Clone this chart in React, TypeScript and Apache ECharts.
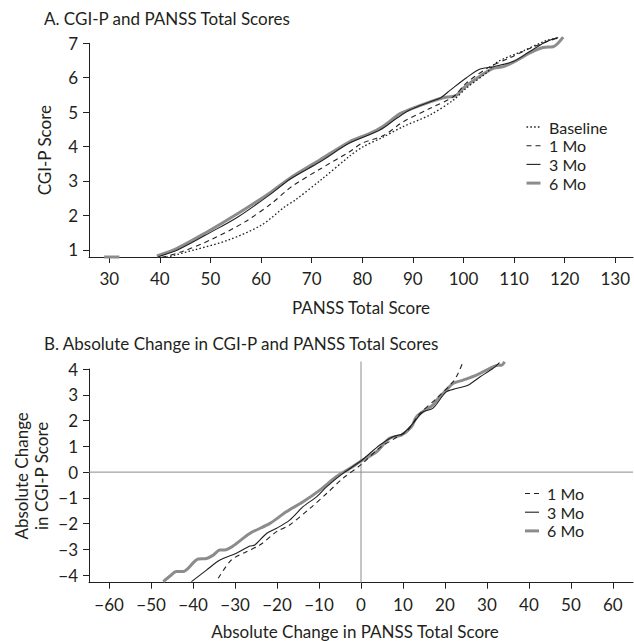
import React, { useEffect, useRef } from "react";
import * as echarts from "echarts";

// ---------- Panel A: CGI-P vs PANSS total score ----------
const aXTicks = [30, 40, 50, 60, 70, 80, 90, 100, 110, 120, 130];
const aYTicks = [1, 2, 3, 4, 5, 6, 7];

const aBaseX = [41.3, 46.9, 53.5, 60.1, 64.7, 66.7, 72, 77.5, 80, 84.2, 88.1, 93.4, 98, 100.6, 104.6, 106.6, 111.8, 116.4, 118.7];
const aBaseY = [0.78, 1.0, 1.28, 1.72, 2.25, 2.44, 3.05, 3.72, 3.98, 4.28, 4.58, 4.92, 5.35, 5.7, 6.15, 6.45, 6.78, 7.08, 7.15];

const a1MoX = [40.4, 44.3, 50.2, 56.8, 62.1, 66, 71.6, 77.5, 80, 84.2, 88.1, 93.4, 98, 100.6, 105, 109.2, 113.1, 118.4];
const a1MoY = [0.78, 0.94, 1.3, 1.81, 2.35, 2.83, 3.34, 3.85, 4.1, 4.32, 4.72, 5.11, 5.45, 5.85, 6.3, 6.58, 6.85, 7.15];

const a3MoX = [39.7, 43.6, 50.2, 55.5, 62.1, 65.7, 71.6, 77.5, 83.5, 86.8, 89.4, 93.4, 95.5, 97.4, 100.6, 103.3, 105.9, 109.8, 113.1, 116.4, 118.7];
const a3MoY = [0.8, 1.0, 1.52, 1.96, 2.64, 3.05, 3.55, 4.1, 4.48, 4.82, 5.06, 5.3, 5.42, 5.64, 6.0, 6.25, 6.32, 6.47, 6.76, 7.05, 7.17];

const a6MoX = [39.4, 43, 48.9, 55.5, 62.1, 65.7, 71.6, 77.5, 81.5, 84.2, 87.4, 89.4, 93.4, 96, 98.5, 100, 103.3, 105.9, 107.9, 110.5, 113.1, 115.7, 117.7, 119.7];
const a6MoY = [0.82, 1.01, 1.48, 2.06, 2.69, 3.08, 3.61, 4.14, 4.38, 4.6, 4.95, 5.08, 5.3, 5.42, 5.48, 5.7, 6.05, 6.27, 6.32, 6.5, 6.72, 6.88, 6.9, 7.18];

const a6MoTailX = [29, 32];
const a6MoTailY = [0.79, 0.79];

// ---------- Panel B: absolute change ----------
const bXTicks = [-60, -50, -40, -30, -20, -10, 0, 10, 20, 30, 40, 50, 60];
const bYTicks = [-4, -3, -2, -1, 0, 1, 2, 3, 4];

const b1MoX = [-34, -30.9, -27.3, -24.1, -20.1, -17, -12.2, -8.2, -4.3, 0.1, 4.5, 8, 11, 14, 18, 21.9, 23.1, 24.3];
const b1MoY = [-4.12, -3.41, -3.09, -2.83, -2.31, -2.05, -1.41, -0.83, -0.24, 0.3, 0.95, 1.3, 1.6, 2.27, 2.86, 3.5, 3.82, 4.28];

const b3MoX = [-40.4, -36.8, -33.6, -29.7, -26.5, -25.3, -22.5, -20.1, -17, -13.8, -10.6, -8.2, -4.3, 0.1, 4.5, 7.6, 10, 12.4, 14.8, 17.1, 20.3, 22.7, 25.5, 28.3, 31.4, 33];
const b3MoY = [-4.25, -3.8, -3.41, -3.15, -2.87, -2.83, -2.38, -2.18, -1.86, -1.34, -0.96, -0.57, -0.05, 0.45, 1.05, 1.37, 1.5, 1.89, 2.34, 2.47, 3.11, 3.24, 3.37, 3.69, 4.02, 4.25];

const b6MoX = [-47.1, -45.5, -44, -42.4, -38.8, -36.8, -35.2, -33.6, -32.5, -30.5, -26.5, -21.7, -17.8, -13.8, -9.8, -5.9, -2.7, 0.1, 3.7, 6.8, 9.6, 12, 13.2, 15.2, 17.1, 18.7, 20.3, 21.9, 24.3, 27.5, 30.6, 32.6, 33.5, 34.2];
const b6MoY = [-4.25, -4.03, -3.86, -3.86, -3.37, -3.35, -3.22, -3.02, -3.02, -2.87, -2.38, -1.99, -1.54, -1.15, -0.7, -0.18, 0.14, 0.44, 0.79, 1.31, 1.43, 1.76, 2.14, 2.4, 2.6, 2.92, 3.18, 3.44, 3.57, 3.76, 4.02, 4.15, 4.15, 4.28];

const aLegend = ["Baseline", "1 Mo", "3 Mo", "6 Mo"];
const bLegend = ["1 Mo", "3 Mo", "6 Mo"];

const aXRange = [26, 133.5];
const aYRange = [0.79, 7];
const bXRange = [-64.8, 64.8];
const bYRange = [-4.29, 4];
const bZeroTop = 4.29;

const INK = "#231f20";
const GRAY = "#8c8c8c";
const FONT = "Lato";
const FS = 17;

const pts = (xs: number[], ys: number[]) => xs.map((x, i) => [x, ys[i]]);
const minus = (v: number) => (v < 0 ? "\u2212" + Math.abs(v) : String(v));

const STYLES: Record<string, any> = {
  Baseline: { color: INK, width: 1.3, type: [1.6, 2.2] },
  "1 Mo": { color: INK, width: 1.1, type: [5, 4] },
  "3 Mo": { color: INK, width: 1.1, type: "solid" },
  "6 Mo": { color: GRAY, width: 3, type: "solid" },
};

export default function App() {
  const ref = useRef<HTMLDivElement>(null);
  useEffect(() => {
    if (!ref.current) return;
    const chart = echarts.init(ref.current, undefined, { renderer: "svg" });

    const axisCommon = (ticks: number[], margin: number, fmt?: (v: number) => string) => ({
      axisLine: { show: true, onZero: false, lineStyle: { color: INK, width: 1 } },
      axisTick: { show: true, length: 6, customValues: ticks, lineStyle: { color: INK, width: 1 } },
      axisLabel: {
        customValues: ticks,
        fontSize: FS,
        color: INK,
        fontFamily: FONT,
        margin,
        formatter: fmt ? (v: number) => fmt(v) : undefined,
        showMinLabel: true,
        showMaxLabel: true,
      },
      splitLine: { show: false },
      nameTextStyle: { fontSize: FS, color: INK, fontFamily: FONT, lineHeight: 20 },
      nameMoveOverlap: false,
    });

    const line = (name: string, data: number[][], idx: number, style: any, smooth: any = 0.3) => ({
      type: "line",
      name,
      data,
      xAxisIndex: idx,
      yAxisIndex: idx,
      symbol: "none",
      showSymbol: false,
      smooth,
      clip: false,
      silent: true,
      lineStyle: style,
      itemStyle: { color: style.color },
    });

    const zero = { color: GRAY, width: 1, type: "solid" };

    const legendGraphic = (names: string[], x0: number, y0: number, step: number, textX: number) =>
      names.flatMap((n, i) => {
        const s = STYLES[n];
        const y = y0 + i * step;
        return [
          {
            type: "line",
            silent: true,
            shape: { x1: x0, y1: y, x2: x0 + 14, y2: y },
            style: {
              stroke: s.color,
              lineWidth: s.width,
              lineDash: Array.isArray(s.type) ? s.type : null,
            },
          },
          {
            type: "text",
            silent: true,
            x: textX,
            y,
            style: {
              text: n,
              fill: INK,
              font: `16px ${FONT}`,
              verticalAlign: "middle",
              align: "left",
            },
          },
        ];
      });

    chart.setOption({
      animation: false,
      textStyle: { fontFamily: FONT, color: INK },
      title: [
        {
          text: "A. CGI-P and PANSS Total Scores",
          left: 39,
          top: 5,
          textStyle: { fontSize: FS, fontWeight: "normal", color: INK, fontFamily: FONT },
        },
        {
          text: "B. Absolute Change in CGI-P and PANSS Total Scores",
          left: 39,
          top: 330,
          textStyle: { fontSize: FS, fontWeight: "normal", color: INK, fontFamily: FONT },
        },
      ],
      graphic: [
        ...legendGraphic(aLegend, 526.5, 127, 18.7, 549),
        ...legendGraphic(bLegend, 525, 493.5, 18.7, 547),
      ],
      grid: [
        { left: 89, top: 43.3, width: 544, height: 213.7, outerBoundsMode: "none" },
        { left: 89, top: 369, width: 544, height: 213.7, outerBoundsMode: "none" },
      ],
      xAxis: [
        {
          type: "value",
          gridIndex: 0,
          min: aXRange[0],
          max: aXRange[1],
          name: "PANSS Total Score",
          nameLocation: "middle",
          nameGap: 40,
          ...axisCommon(aXTicks, 13),
        },
        {
          type: "value",
          gridIndex: 1,
          min: bXRange[0],
          max: bXRange[1],
          name: "Absolute Change in PANSS Total Score",
          nameLocation: "middle",
          nameGap: 40,
          ...axisCommon(bXTicks, 13, minus),
          nameTextStyle: { fontSize: FS, color: INK, fontFamily: FONT, padding: [0, 12, 0, 0] },
        },
      ],
      yAxis: [
        {
          type: "value",
          gridIndex: 0,
          min: aYRange[0],
          max: aYRange[1],
          name: "CGI-P Score",
          nameLocation: "middle",
          nameGap: 35,
          ...axisCommon(aYTicks, 11),
        },
        {
          type: "value",
          gridIndex: 1,
          min: bYRange[0],
          max: bYRange[1],
          name: "Absolute Change\nin CGI-P Score",
          nameLocation: "middle",
          nameGap: 38,
          ...axisCommon(bYTicks, 11, minus),
        },
      ],
      series: [
        line("6 Mo", pts(a6MoTailX, a6MoTailY), 0, STYLES["6 Mo"], false),
        line("6 Mo", pts(a6MoX, a6MoY), 0, STYLES["6 Mo"]),
        line("3 Mo", pts(a3MoX, a3MoY), 0, STYLES["3 Mo"]),
        line("1 Mo", pts(a1MoX, a1MoY), 0, STYLES["1 Mo"]),
        line("Baseline", pts(aBaseX, aBaseY), 0, STYLES["Baseline"]),
        line("zeroH", pts([bXRange[0], bXRange[1]], [0, 0]), 1, zero, false),
        line("zeroV", pts([0, 0], [bYRange[0], bZeroTop]), 1, zero, false),
        line("6 Mo", pts(b6MoX, b6MoY), 1, STYLES["6 Mo"]),
        line("3 Mo", pts(b3MoX, b3MoY), 1, STYLES["3 Mo"]),
        line("1 Mo", pts(b1MoX, b1MoY), 1, STYLES["1 Mo"]),
      ],
    });
    return () => chart.dispose();
  }, []);
  return (
    <div
      ref={ref}
      style={{ position: "absolute", left: 0, top: 0, width: 634, height: 641 }}
    />
  );
}
